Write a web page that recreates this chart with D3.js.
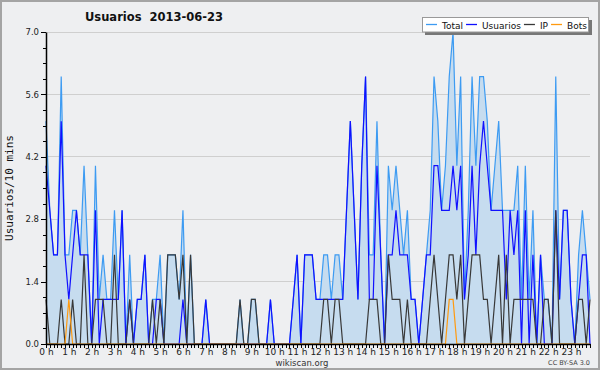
<!DOCTYPE html>
<html>
<head>
<meta charset="utf-8">
<script src="https://cdn.jsdelivr.net/npm/d3@7/dist/d3.min.js"></script>
<style>
  body { margin: 0; background: #fff; }
  svg { display: block; font-family: "DejaVu Sans", sans-serif; }
</style>
</head>
<body>
<svg id="chart" width="600" height="370"></svg>
<script>
/* Usuarios per 10 minutes for one day, 144 slots. */
const title = 'Usuarios  2013-06-23';
const yLabel = 'Usuarios/10 mins';
const hourLabels = d3.range(24).map(h => h + ' h');
const yTicks = [0, 1.4, 2.8, 4.2, 5.6, 7.0];

const total = [
  5,3,2,2,6,2,2,3,3,2, 4,2,0,4,1,2,1,1,3,1, 3,0,2,0,1,1,2,0,1,1,
  2,0,2,2,2,1,3,0,2,0, 0,0,1,0,0,0,0,0,0,0, 0,1,0,0,1,1,0,0,0,1,
  0,0,0,0,0,1,2,0,2,2, 2,1,1,2,2,1,2,2,1,3, 5,3,1,4,6,2,2,5,2,0,
  4,3,4,3,2,3,1,1,0,1, 2,3,6,5,3,4,6,7,4,6, 1,3,6,4,6,6,5,3,4,5,
  3,3,3,3,4,1,4,1,3,0, 2,1,1,0,6,1,3,3,1,0, 2,3,2,1
];
const usuarios = [
  4,3,2,2,5,2,1,2,3,2, 2,2,0,3,0,1,1,1,1,1, 3,0,1,0,1,1,2,0,0,1,
  1,0,0,0,0,0,1,0,0,0, 0,0,1,0,0,0,0,0,0,0, 0,0,0,0,0,0,0,0,0,1,
  0,0,0,0,0,1,2,0,2,2, 2,1,1,1,1,1,1,1,1,3, 5,3,1,4,6,1,1,4,2,0,
  2,2,3,2,2,2,1,1,0,1, 2,2,4,4,3,3,3,4,3,4, 1,2,4,2,4,5,4,3,3,3,
  3,1,3,2,3,0,3,0,2,0, 2,0,0,0,3,1,3,3,1,0, 1,2,2,0
];
const ip = [
  1,0,0,0,1,0,0,1,0,0, 2,0,0,1,1,1,0,0,2,0, 0,0,1,0,0,0,0,0,1,0,
  1,0,2,2,2,1,2,0,2,0, 0,0,0,0,0,0,0,0,0,0, 0,1,0,0,1,1,0,0,0,0,
  0,0,0,0,0,0,0,0,0,0, 0,0,0,1,1,0,1,1,0,0, 0,0,0,0,0,1,1,1,0,0,
  2,1,1,1,0,1,0,0,0,0, 0,1,2,1,0,1,2,2,1,2, 0,1,2,2,2,1,1,0,1,2,
  0,2,0,1,1,1,1,1,1,0, 0,1,1,0,3,0,0,0,0,0, 1,1,0,1
];
const bots = [
  0,0,0,0,0,0,1,0,0,0, 0,0,0,0,0,0,0,0,0,0, 0,0,0,0,0,0,0,0,0,0,
  0,0,0,0,0,0,0,0,0,0, 0,0,0,0,0,0,0,0,0,0, 0,0,0,0,0,0,0,0,0,0,
  0,0,0,0,0,0,0,0,0,0, 0,0,0,0,0,0,0,0,0,0, 0,0,0,0,0,0,0,0,0,0,
  0,0,0,0,0,0,0,0,0,0, 0,0,0,0,0,0,1,1,0,0, 0,0,0,0,0,0,0,0,0,0,
  0,0,0,0,0,0,0,0,0,0, 0,0,0,0,0,0,0,0,0,0, 0,0,0,0
];

const series = [
  {name: 'Total', values: total, color: '#3d9bf2'},
  {name: 'Usuarios', values: usuarios, color: '#1010ff'},
  {name: 'IP', values: ip, color: '#383838'},
  {name: 'Bots', values: bots, color: '#ff9a10'}
];

const W = 600, H = 370;
const plot = {left: 46, right: 590, top: 32, bottom: 344};

const svg = d3.select('#chart');

// background and frame
svg.append('rect')
  .attr('x', 1).attr('y', 1)
  .attr('width', W - 2).attr('height', H - 2)
  .attr('fill', '#eeeff1')
  .attr('stroke', '#a4a4a4')
  .attr('stroke-width', 2);

const x = d3.scaleLinear().domain([0, total.length - 1]).range([plot.left, plot.right]);
const y = d3.scaleLinear().domain([0, 7]).range([plot.bottom, plot.top]);

// horizontal grid
svg.append('g')
  .selectAll('line')
  .data(yTicks.filter(d => d > 0))
  .join('line')
  .attr('x1', plot.left).attr('x2', plot.right)
  .attr('y1', d => y(d)).attr('y2', d => y(d))
  .attr('stroke', '#cfcfcf')
  .attr('stroke-width', 1)
  .attr('shape-rendering', 'crispEdges');

// total area
svg.append('path')
  .datum(total)
  .attr('fill', '#c6dcef')
  .attr('d', d3.area().x((d, i) => x(i)).y0(y(0)).y1(d => y(d)));

// series lines
const line = d3.line().x((d, i) => x(i)).y(d => y(d));
for (const s of series) {
  svg.append('path')
    .datum(s.values)
    .attr('fill', 'none')
    .attr('stroke', s.color)
    .attr('stroke-width', 1.2)
    .attr('stroke-linejoin', 'miter')
    .attr('d', line);
}

// y axis: minor then major ticks
svg.append('g')
  .attr('transform', `translate(${plot.left},0)`)
  .call(d3.axisLeft(y).tickValues(d3.range(0, 7.01, 0.35)).tickSize(3).tickFormat(''))
  .call(g => g.select('.domain').remove())
  .call(g => g.selectAll('line').attr('stroke', '#000').attr('shape-rendering', 'crispEdges'));

const yAxis = svg.append('g')
  .attr('transform', `translate(${plot.left},0)`)
  .call(d3.axisLeft(y).tickValues(yTicks).tickSize(5).tickSizeOuter(0).tickPadding(2).tickFormat(d3.format('.1f')));
yAxis.select('.domain').attr('stroke', '#000').attr('stroke-width', 1.5);
yAxis.selectAll('line').attr('stroke', '#000').attr('shape-rendering', 'crispEdges');
yAxis.selectAll('text')
  .attr('font-family', '"DejaVu Sans", sans-serif')
  .attr('font-size', 8.5)
  .attr('fill', '#222');

// x axis: a tick every 10 minutes, label on each hour
const xAxis = svg.append('g')
  .attr('transform', `translate(0,${plot.bottom})`)
  .call(d3.axisBottom(x)
    .tickValues(d3.range(0, total.length))
    .tickSize(4).tickSizeOuter(0).tickPadding(1)
    .tickFormat(i => i % 6 === 0 ? hourLabels[i / 6] : ''));
xAxis.select('.domain').attr('stroke', '#000').attr('stroke-width', 1.5);
xAxis.selectAll('line').attr('stroke', '#000').attr('shape-rendering', 'crispEdges');
xAxis.selectAll('text')
  .attr('font-family', '"DejaVu Sans", sans-serif')
  .attr('font-size', 9)
  .attr('fill', '#222');

// title
svg.append('text')
  .attr('x', 85).attr('y', 21)
  .style('white-space', 'pre')
  .attr('font-family', '"DejaVu Sans", sans-serif')
  .attr('font-weight', 'bold')
  .attr('font-size', 11.5)
  .attr('fill', '#111')
  .text(title);

// y label
svg.append('text')
  .attr('transform', `translate(13,${(plot.top + plot.bottom) / 2}) rotate(-90)`)
  .attr('text-anchor', 'middle')
  .attr('font-family', '"DejaVu Sans Mono", monospace')
  .attr('font-size', 11)
  .attr('fill', '#111')
  .text(yLabel);

// footer
svg.append('text')
  .attr('x', 302).attr('y', 366)
  .attr('text-anchor', 'middle')
  .attr('font-size', 8.5)
  .attr('fill', '#333')
  .text('wikiscan.org');
svg.append('text')
  .attr('x', 590).attr('y', 365)
  .attr('text-anchor', 'end')
  .attr('font-size', 6.5)
  .attr('fill', '#444')
  .text('CC BY-SA 3.0');

// legend
const legend = svg.append('g');
legend.append('rect')
  .attr('x', 425).attr('y', 20).attr('width', 167).attr('height', 15)
  .attr('fill', '#777');
legend.append('rect')
  .attr('x', 422.5).attr('y', 17.5).attr('width', 166).attr('height', 14.5)
  .attr('fill', '#fff').attr('stroke', '#999');
let lx = 426;
for (const s of series) {
  legend.append('line')
    .attr('x1', lx).attr('x2', lx + 11)
    .attr('y1', 24.5).attr('y2', 24.5)
    .attr('stroke', s.color).attr('stroke-width', 1.3);
  const t = legend.append('text')
    .attr('x', lx + 16).attr('y', 28.5)
    .attr('font-size', 9)
    .attr('fill', '#111')
    .text(s.name);
  lx += 16 + t.node().getComputedTextLength() + 3;
}
</script>
</body>
</html>
